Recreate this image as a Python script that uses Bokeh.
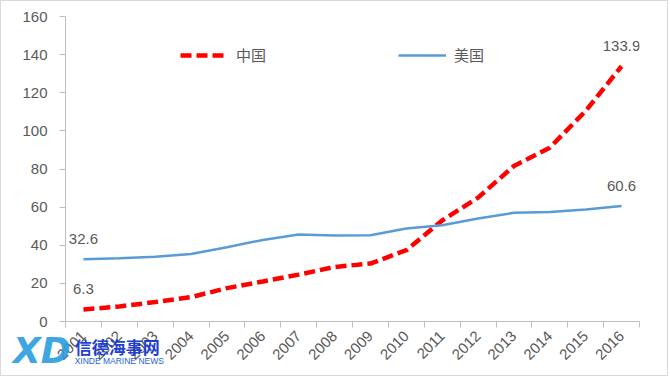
from bokeh.plotting import figure
from bokeh.models import (Range1d, FixedTicker, Legend, LegendItem, ColumnDataSource,
                          LabelSet, Div)
from bokeh.layouts import column
from bokeh.core.properties import value
from bokeh.embed import file_html
from bokeh.resources import INLINE

years = ["2001", "2002", "2003", "2004", "2005", "2006", "2007", "2008",
         "2009", "2010", "2011", "2012", "2013", "2014", "2015", "2016"]
china = [6.3, 7.9, 10.2, 12.8, 17.5, 21.0, 24.6, 28.6, 30.4, 37.4, 53.0,
         65.0, 81.6, 91.2, 110.5, 133.9]
usa = [32.6, 33.2, 34.0, 35.4, 39.0, 42.8, 45.6, 45.1, 45.3, 48.8, 50.5,
       54.0, 57.0, 57.5, 58.8, 60.6]
series_names = ["中国", "美国"]
y_ticks = [0, 20, 40, 60, 80, 100, 120, 140, 160]

xs = list(range(1, len(years) + 1))

GRAY = "#595959"
NUM_FONT = "Liberation Sans"
CJK_FONT = "Noto Sans CJK SC"

p = figure(width=668, height=376, output_backend="svg", toolbar_location=None,
           x_range=Range1d(0.5, len(years) + 0.5), y_range=Range1d(0, 160),
           min_border_left=64, min_border_right=30, min_border_top=15,
           min_border_bottom=56)
p.styles = {"border": "1px solid #d9d9d9"}
p.outline_line_color = None
p.xgrid.visible = False
p.ygrid.visible = False

# axes
p.yaxis.ticker = FixedTicker(ticks=y_ticks)
p.yaxis.axis_line_color = "#bfbfbf"
p.yaxis.major_tick_line_color = "#bfbfbf"
p.yaxis.major_tick_out = 6
p.yaxis.major_tick_in = 0
p.yaxis.minor_tick_line_color = None
p.yaxis.major_label_text_font = NUM_FONT
p.yaxis.major_label_text_font_size = "15px"
p.yaxis.major_label_text_color = GRAY
p.yaxis.major_label_standoff = 12

p.xaxis.ticker = FixedTicker(ticks=xs, minor_ticks=[x - 0.5 for x in xs] + [len(xs) + 0.5])
p.xaxis.major_label_overrides = {x: y for x, y in zip(xs, years)}
p.xaxis.axis_line_color = "#bfbfbf"
p.xaxis.major_tick_line_color = None
p.xaxis.major_tick_out = 0
p.xaxis.major_tick_in = 0
p.xaxis.minor_tick_line_color = "#bfbfbf"
p.xaxis.minor_tick_out = 6
p.xaxis.minor_tick_in = 0
p.xaxis.major_label_orientation = 0.785
p.xaxis.major_label_text_font = NUM_FONT
p.xaxis.major_label_text_font_size = "15px"
p.xaxis.major_label_text_color = GRAY
p.xaxis.major_label_standoff = 6

src = ColumnDataSource(dict(x=xs, china=china, usa=usa))
r_cn = p.line("x", "china", source=src, line_color="#ff0000", line_width=4.5,
              line_dash="11 5", line_cap="butt")
r_us = p.line("x", "usa", source=src, line_color="#5b9bd5", line_width=2.5)

# end-point data labels
lab_src = ColumnDataSource(dict(
    x=[xs[0], xs[-1], xs[0], xs[-1]],
    y=[china[0], china[-1], usa[0], usa[-1]],
    t=[f"{china[0]}", f"{china[-1]}", f"{usa[0]}", f"{usa[-1]}"]))
p.add_layout(LabelSet(x="x", y="y", text="t", source=lab_src, y_offset=15,
                      text_align="center", text_baseline="bottom",
                      text_font=value(NUM_FONT), text_font_size=value("15px"),
                      text_color=GRAY))

legend = Legend(items=[LegendItem(label=series_names[0], renderers=[r_cn]),
                       LegendItem(label=series_names[1], renderers=[r_us])],
                orientation="horizontal", location=(115, 256),
                border_line_color=None, background_fill_alpha=0,
                glyph_width=48, glyph_height=20, label_standoff=8,
                spacing=132, padding=0, margin=0,
                label_text_font=CJK_FONT, label_text_font_size="15px",
                label_text_color=GRAY)
p.add_layout(legend)

# watermark overlaid in the bottom-left corner
wm_html = (
    '<div style="display:flex;align-items:center;">'
    '<span style="font:italic bold 36px \'DejaVu Sans\';color:#2a9ee0;opacity:0.9;'
    'line-height:36px;">XD</span>'
    '<span style="display:flex;flex-direction:column;margin-left:4px;">'
    '<span style="font:bold 17px \'Noto Sans CJK SC\';color:#1f3fd0;line-height:19px;">信德海事网</span>'
    '<span style="font:8.5px \'Liberation Sans\';color:#1f5fd0;line-height:10px;">XINDE MARINE NEWS</span>'
    '</span></div>')
wm = Div(text=wm_html, width=170, height=38,
         styles={"position": "absolute", "left": "8px", "top": "328px",
                 "z-index": "10"})

layout = column(p, wm)
open("out.html", "w").write(file_html(layout, INLINE))
